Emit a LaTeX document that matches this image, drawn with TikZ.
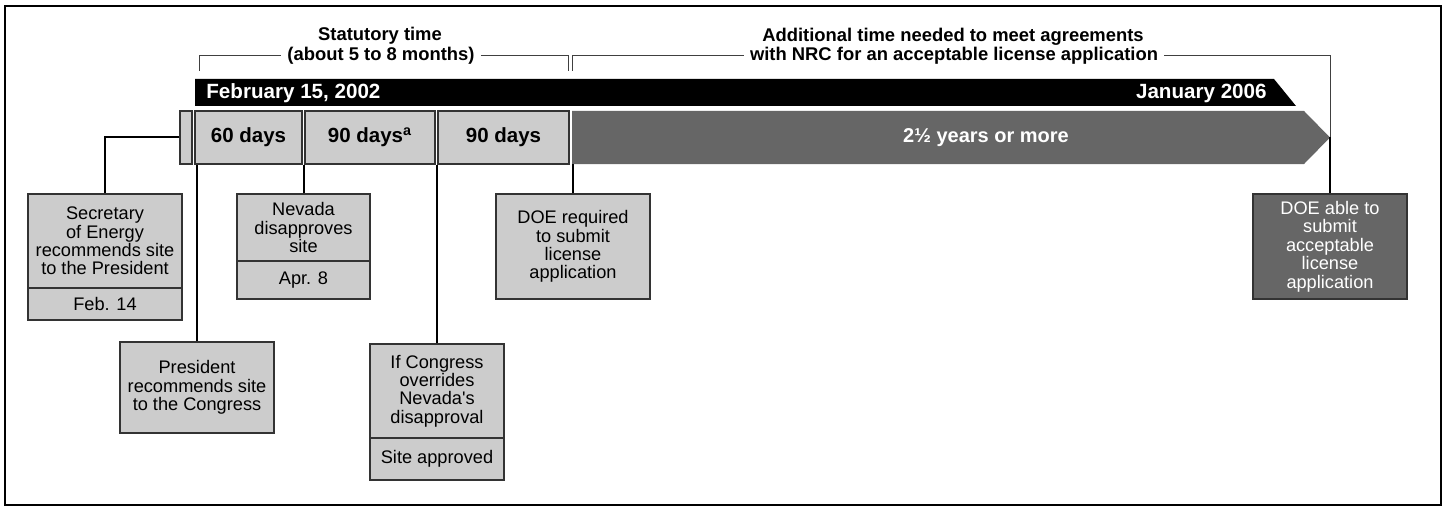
\documentclass[tikz,border=0pt]{standalone}
\usepackage{fontspec}
\setmainfont{Liberation Sans}
\definecolor{lg}{HTML}{CCCCCC}
\definecolor{dg}{HTML}{666666}
\definecolor{bd}{HTML}{333333}
\begin{document}
\begin{tikzpicture}[x=0.5pt,y=-0.5pt,
  box/.style={draw=bd,fill=lg,line width=0.65pt,inner sep=0pt,align=center,font=\fontsize{9.1}{9.2}\selectfont},
  dbox/.style={box,fill=dg,text=white},
  rowbox/.style={box,font=\bfseries\fontsize{10.25}{12}\selectfont},
  conn/.style={line width=1pt,black},
  brk/.style={line width=0.5pt,draw=black!75},
  hdr/.style={font=\bfseries\fontsize{9.2}{10}\selectfont,inner xsep=3pt,inner ysep=0pt},
  bartext/.style={text=white,inner sep=0pt,font=\bfseries\fontsize{10.3}{12}\selectfont}]

\useasboundingbox (0,0) rectangle (1445,508);
\draw[line width=0.8pt] (5,6) rectangle (1441,505);

% headers
\node[hdr] (st1) at (380,36) {Statutory time};
\node[hdr] (st2) at (381,56) {(about 5 to 8 months)};
\node[hdr] (ad1) at (953,37) {Additional time needed to meet agreements};
\node[hdr] (ad2) at (954,56) {with NRC for an acceptable license application};

% black date bar
\fill[black] (195,79) -- (1274,79) -- (1296,106) -- (195,106) -- cycle;
\node[bartext,anchor=west] (feb) at (206,93) {February 15, 2002};
\node[bartext,anchor=east] (jan) at (1267,93) {January 2006};

% dark arrow
\fill[dg] (572,111) -- (1304,111) -- (1330,137.5) -- (1304,164) -- (572,164) -- cycle;
\coordinate (tip) at (1330,137.5);
\coordinate (arrS) at (572,164);
\node[bartext,font=\bfseries\fontsize{10}{12}\selectfont] (yrs) at (986,137.5) {2½ years or more};

% brackets
\draw[brk] (199,71) |- (st2.west);
\draw[brk] (st2.east) -| (568,71);
\draw[brk] (572,71) |- (ad2.west);
\draw[brk] (ad2.east) -| (tip);

% row boxes
\node[box,minimum width=6pt,minimum height=26.5pt] (small) at (186,137.5) {};
\node[rowbox,minimum width=53.5pt,minimum height=26.5pt] (d60) at (248.5,137.5) {60 days};
\node[rowbox,minimum width=65pt,minimum height=26.5pt] (d90a) at (370,137.5) {90 days\textsuperscript{a}};
\node[rowbox,minimum width=65.5pt,minimum height=26.5pt] (d90) at (503.5,137.5) {90 days};

% event boxes
\node[box,minimum width=77pt,minimum height=47pt] (sec) at (105,241) {Secretary\\of Energy\\recommends site\\to the President};
\node[box,minimum width=77pt,minimum height=16pt] (secd) at (105,304) {Feb. 14};
\node[box,minimum width=77pt,minimum height=45.5pt] (pres) at (197,387.5) {President\\recommends site\\to the Congress};
\node[box,minimum width=66.5pt,minimum height=33.5pt] (nev) at (303.5,227.5) {Nevada\\disapproves\\site};
\node[box,minimum width=66.5pt,minimum height=19pt] (nevd) at (303.5,280) {Apr. 8};
\node[box,minimum width=67pt,minimum height=47pt] (cong) at (437,391) {If Congress\\overrides\\Nevada\textquotesingle s\\disapproval};
\node[box,minimum width=67pt,minimum height=21pt] (congd) at (437,459) {Site approved};
\node[box,minimum width=77pt,minimum height=52.5pt] (doer) at (573,246.5) {DOE required\\to submit\\license\\application};
\node[dbox,minimum width=77pt,minimum height=52.5pt] (doea) at (1330,246.5) {DOE able to\\submit\\acceptable\\license\\application};

% connectors
\draw[conn] (small.west) -| (sec.north);
\draw[conn] (pres.north) -- (pres.north |- d60.south);
\draw[conn] (nev.north) -- (nev.north |- d90a.south);
\draw[conn] (cong.north) -- (cong.north |- d90.south);
\draw[conn] (doer.north) -- (doer.north |- arrS);
\draw[conn] (doea.north) -- (doea.north |- tip);
\end{tikzpicture}
\end{document}
